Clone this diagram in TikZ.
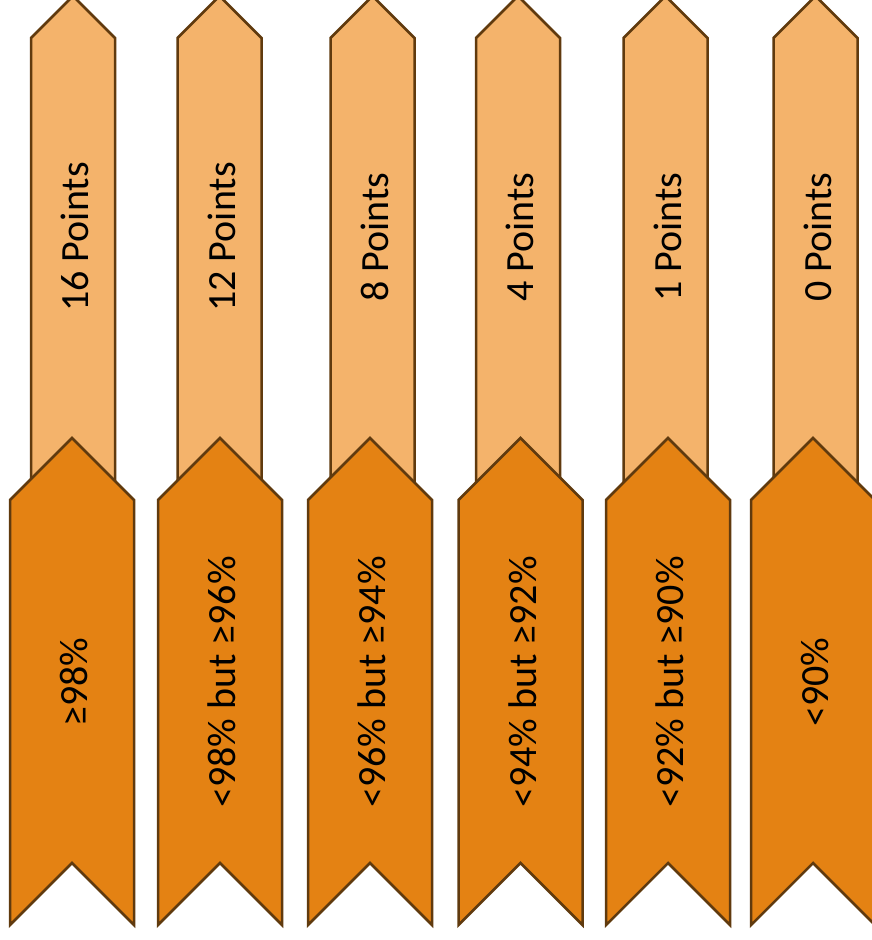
\documentclass[tikz,border=0pt]{standalone}
\usepackage{fontspec}
\setmainfont{Carlito}
\usepackage{tikz}
\usetikzlibrary{positioning}
\definecolor{tan1}{HTML}{F4B36B}
\definecolor{orange1}{HTML}{E48213}
\definecolor{brown1}{HTML}{603A0E}
\begin{document}
\begin{tikzpicture}[x=1pt,y=-1pt,
  upper/.style={fill=tan1,draw=brown1,line width=2.5pt,line join=miter},
  lower/.style={fill=orange1,draw=brown1,line width=2.5pt,line join=miter},
  lbl/.style={rotate=90,text=black,inner sep=0pt,font=\fontsize{40}{48}\selectfont}]
  \useasboundingbox (0,0) rectangle (872,940);
  % top row: light arrows with the points
  \foreach \x/\n/\t in {73/a/16 Points,219.5/b/12 Points,372.5/c/8 Points,518/d/4 Points,665.5/e/1 Points,815.5/f/0 Points} {
    \draw[upper] (\x-42,520) -- (\x-42,38) -- (\x,-4) -- (\x+42,38) -- (\x+42,520) -- cycle;
    \node[lbl] (pts\n) at (\x+2,237) {\t};
  }
  % bottom row: dark ribbons with the ranges
  \foreach \x/\n/\t in {72/a/≥98\%,220/b/<98\% but ≥96\%,370/c/<96\% but ≥94\%,520.5/d/<94\% but ≥92\%,668/e/<92\% but ≥90\%,813/f/<90\%} {
    \draw[lower] (\x-62,925) -- (\x-62,500) -- (\x,438) -- (\x+62,500) -- (\x+62,925) -- (\x,863) -- cycle;
    \node[lbl] (pct\n) at (\x+2,682) {\t};
  }
\end{tikzpicture}
\end{document}
